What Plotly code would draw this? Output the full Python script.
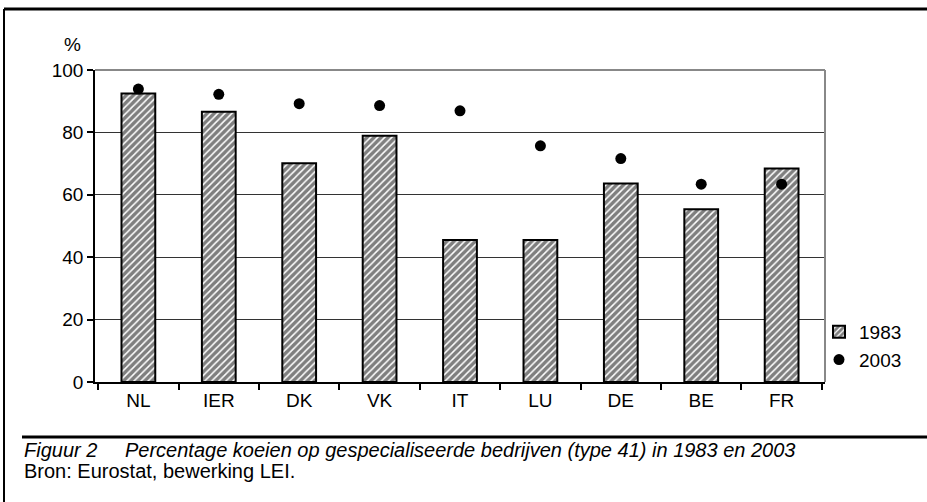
import plotly.graph_objects as go

categories = ["NL", "IER", "DK", "VK", "IT", "LU", "DE", "BE", "FR"]
values_1983 = [92.5, 86.6, 70.1, 78.9, 45.5, 45.5, 63.6, 55.4, 68.4]
values_2003 = [93.9, 92.2, 89.2, 88.6, 86.9, 75.7, 71.6, 63.4, 63.4]
y_ticks = [0, 20, 40, 60, 80, 100]

W, H = 927, 502
L, R, T, B = 95, 102, 70, 120
PW, PH = W - L - R, H - T - B

def px(x):
    return (x - L) / PW

def py(y):
    return (H - B - y) / PH

tick_font = dict(family="Liberation Sans, Arial, sans-serif", size=19, color="black")
cap_font = dict(family="Liberation Sans, Arial, sans-serif", size=20, color="black")

fig = go.Figure()
fig.add_trace(go.Bar(
    x=categories, y=values_1983, name="1983",
    width=0.42,
    marker=dict(color="white", line=dict(color="black", width=2),
                pattern=dict(shape="/", fgcolor="black", bgcolor="white", size=5, solidity=0.7)),
))
fig.add_trace(go.Scatter(
    x=categories, y=values_2003, name="2003", mode="markers",
    marker=dict(color="black", size=11),
))

shapes = [
    dict(type="line", xref="paper", yref="paper", x0=0, x1=1, y0=1, y1=1, line=dict(color="#888888", width=2)),
    dict(type="line", xref="paper", yref="paper", x0=1, x1=1, y0=0, y1=1, line=dict(color="#888888", width=2)),
    dict(type="line", xref="paper", yref="paper", x0=px(4), x1=px(940), y0=py(9), y1=py(9), line=dict(color="black", width=3)),
    dict(type="line", xref="paper", yref="paper", x0=px(4), x1=px(4), y0=py(9), y1=py(510), line=dict(color="black", width=2)),
    dict(type="line", xref="paper", yref="paper", x0=px(22), x1=px(940), y0=py(437), y1=py(437), line=dict(color="black", width=3)),
]

annotations = [
    dict(text="%", xref="paper", yref="paper", x=px(62), y=py(44), xanchor="left", yanchor="middle",
         showarrow=False, font=tick_font),
    dict(text="<i>Figuur 2</i>", xref="paper", yref="paper", x=px(22), y=py(450), xanchor="left", yanchor="middle",
         showarrow=False, font=cap_font),
    dict(text="<i>Percentage koeien op gespecialiseerde bedrijven (type 41) in 1983 en 2003</i>", xref="paper", yref="paper",
         x=px(123), y=py(450), xanchor="left", yanchor="middle",
         showarrow=False, font=cap_font),
    dict(text="Bron: Eurostat, bewerking LEI.", xref="paper", yref="paper", x=px(22), y=py(471), xanchor="left", yanchor="middle",
         showarrow=False, font=cap_font),
]

fig.update_layout(
    width=W, height=H,
    margin=dict(l=L, r=R, t=T, b=B, pad=0),
    paper_bgcolor="white", plot_bgcolor="white",
    showlegend=True,
    legend=dict(x=px(819), xanchor="left", y=py(313), yanchor="top", font=tick_font,
                bgcolor="rgba(0,0,0,0)", itemwidth=30, tracegroupgap=0),
    shapes=shapes, annotations=annotations,
)
fig.update_xaxes(
    type="category", showline=True, linecolor="black", linewidth=1.5,
    ticks="outside", tickson="boundaries", ticklen=6, tickcolor="black", tickwidth=1.5,
    tickfont=tick_font, showgrid=False,
)
fig.update_yaxes(
    range=[0, 100], tickvals=y_ticks, ticktext=[str(v) for v in y_ticks],
    showline=True, linecolor="black", linewidth=1.5,
    ticks="outside", ticklen=6, tickcolor="black", tickwidth=1.5,
    tickfont=tick_font, showgrid=True, gridcolor="#333333", gridwidth=1, zeroline=False,
)

fig.write_html("out.html", config={"displayModeBar": False},
               post_script="document.body.style.margin='0';document.body.style.overflow='hidden';")
